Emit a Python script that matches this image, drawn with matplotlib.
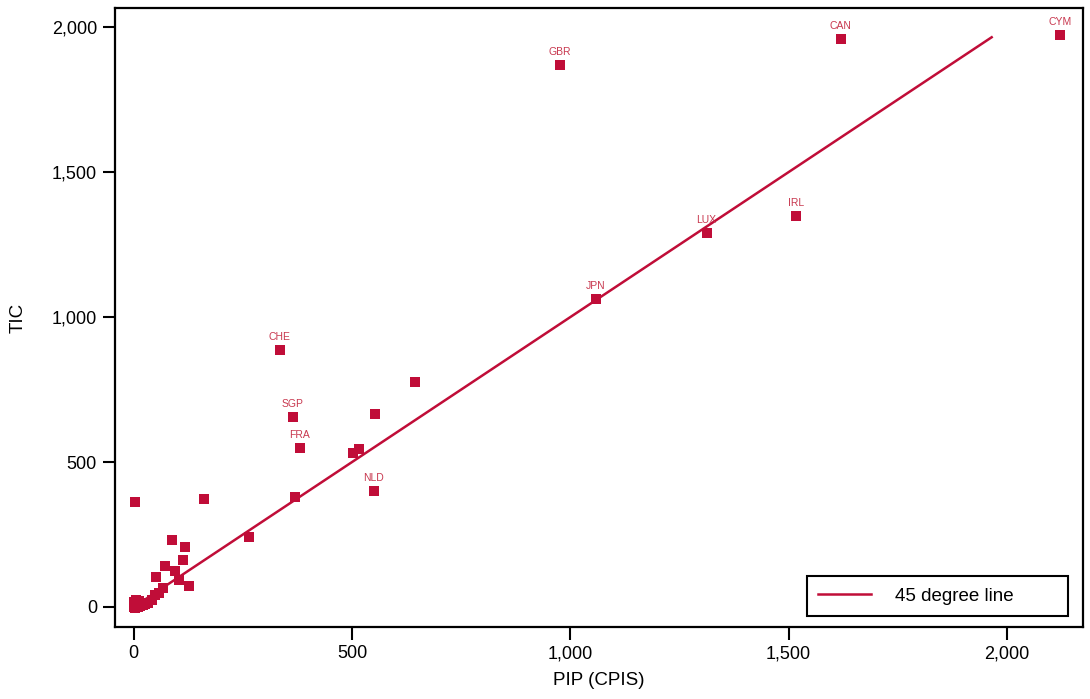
import matplotlib.pyplot as plt
from matplotlib.ticker import FuncFormatter

plt.rcParams['font.family'] = ['Liberation Sans', 'DejaVu Sans']

# labelled economies
lab_names = ['CYM', 'CAN', 'GBR', 'IRL', 'LUX', 'JPN', 'CHE', 'SGP', 'FRA', 'NLD']
lab_pip = [2121, 1619, 976, 1516, 1312, 1058, 334, 364, 380, 550]
lab_tic = [1972, 1959, 1869, 1348, 1290, 1062, 886, 655, 548, 400]

# unlabelled economies
pip = [644, 552, 515, 502, 369, 263, 160, 2, 87, 117, 112, 94, 71, 50, 103, 126,
       67, 57, 48, 41, 32, 21, 7, 0, 0, 10, 25, 15, 5, 3, 12]
tic = [776, 666, 545, 531, 379, 241, 372, 362, 231, 207, 162, 124, 141, 103, 93, 72,
       66, 48, 41, 24, 14, 7, 7, 17, 0, 0, 10, 3, 25, -5, 20]

line_x = [0, 1965]
red = '#C00D38'

fig = plt.figure(figsize=(10.9, 6.99), dpi=100)
ax = fig.add_axes([0.1055, 0.103, 0.888, 0.8856])

ax.plot(line_x, line_x, color=red, lw=1.8, label='45 degree line', zorder=2)
ax.scatter(pip + lab_pip, tic + lab_tic, marker='s', s=42, color=red, linewidths=0, zorder=3)
for n, x, y in zip(lab_names, lab_pip, lab_tic):
    ax.annotate(n, (x, y), xytext=(0, 6), textcoords='offset points', ha='center',
                va='bottom', fontsize=7.5, color='#C8384F')

ax.set_xlim(-43, 2174)
ax.set_ylim(-69, 2066)
ax.set_xticks([0, 500, 1000, 1500, 2000])
ax.set_yticks([0, 500, 1000, 1500, 2000])
fmt = FuncFormatter(lambda v, p: f'{int(v):,}')
ax.xaxis.set_major_formatter(fmt)
ax.yaxis.set_major_formatter(fmt)
ax.tick_params(direction='out', length=9, width=1.5, labelsize=13, pad=4)
for s in ax.spines.values():
    s.set_linewidth(1.6)

ax.set_xlabel('PIP (CPIS)', fontsize=13.5, labelpad=7)
ax.set_ylabel('TIC', fontsize=13.5, labelpad=18)

leg = ax.legend(loc='lower left', bbox_to_anchor=(0.715, 0.018, 0.27, 0.07), mode='expand',
                fontsize=13.5, fancybox=False, edgecolor='black', framealpha=1,
                borderpad=0.6, handlelength=2.8, handletextpad=1.3, borderaxespad=0)
leg.get_frame().set_linewidth(1.5)

fig.savefig('out.png', dpi=100)
